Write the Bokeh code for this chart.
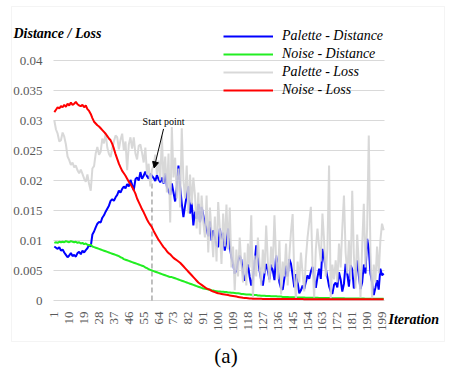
from bokeh.plotting import figure
from bokeh.models import (ColumnDataSource, Range1d, Legend, LegendItem,
                          Label, Arrow, NormalHead, BoxAnnotation)
from bokeh.core.properties import value
from bokeh.embed import file_html
from bokeh.resources import INLINE
import math

iterations = list(range(1, 201))

palette_distance = [
    0.0090, 0.0088, 0.0086, 0.0089, 0.0083, 0.0085, 0.0080, 0.0076, 0.0072, 0.0075,
    0.0079, 0.0074, 0.0076, 0.0073, 0.0079, 0.0081, 0.0077, 0.0083, 0.0080, 0.0084,
    0.0087, 0.0093, 0.0090, 0.0110, 0.0115, 0.0122, 0.0128, 0.0131, 0.0130, 0.0138,
    0.0142, 0.0148, 0.0153, 0.0158, 0.0166, 0.0169, 0.0166, 0.0172, 0.0176, 0.0183,
    0.0180, 0.0186, 0.0190, 0.0187, 0.0194, 0.0190, 0.0201, 0.0193, 0.0184, 0.0202,
    0.0205, 0.0200, 0.0214, 0.0203, 0.0208, 0.0215, 0.0207, 0.0203, 0.0211, 0.0208,
    0.0204, 0.0199, 0.0209, 0.0202, 0.0197, 0.0205, 0.0195, 0.0212, 0.0190, 0.0182,
    0.0176, 0.0195, 0.0180, 0.0165, 0.0189, 0.0225, 0.0190, 0.0162, 0.0139, 0.0158,
    0.0175, 0.0190, 0.0145, 0.0163, 0.0125, 0.0148, 0.0136, 0.0161, 0.0130, 0.0156,
    0.0142, 0.0128, 0.0120, 0.0107, 0.0132, 0.0100, 0.0117, 0.0106, 0.0092, 0.0089,
    0.0120, 0.0102, 0.0113, 0.0083, 0.0099, 0.0120, 0.0090, 0.0072, 0.0061, 0.0045,
    0.0050, 0.0065, 0.0075, 0.0068, 0.0047, 0.0033, 0.0045, 0.0060, 0.0040, 0.0025,
    0.0038, 0.0062, 0.0092, 0.0070, 0.0050, 0.0033, 0.0025, 0.0045, 0.0061, 0.0050,
    0.0035, 0.0060, 0.0050, 0.0034, 0.0075, 0.0055, 0.0030, 0.0020, 0.0018, 0.0037,
    0.0058, 0.0040, 0.0069, 0.0061, 0.0042, 0.0022, 0.0044, 0.0030, 0.0012, 0.0017,
    0.0025, 0.0019, 0.0031, 0.0042, 0.0036, 0.0048, 0.0056, 0.0038, 0.0021, 0.0039,
    0.0053, 0.0036, 0.0086, 0.0070, 0.0054, 0.0039, 0.0024, 0.0015, 0.0011, 0.0026,
    0.0030, 0.0022, 0.0047, 0.0035, 0.0015, 0.0028, 0.0061, 0.0044, 0.0023, 0.0059,
    0.0052, 0.0020, 0.0038, 0.0067, 0.0041, 0.0019, 0.0030, 0.0060, 0.0045, 0.0103,
    0.0086, 0.0045, 0.0030, 0.0009, 0.0021, 0.0034, 0.0018, 0.0053, 0.0042, 0.0045,
]

noise_distance = [
    0.0096, 0.0097, 0.0096, 0.0098, 0.0097, 0.0098, 0.0097, 0.0099, 0.0098, 0.0097,
    0.0099, 0.0098, 0.0097, 0.0098, 0.0096, 0.0097, 0.0095, 0.0096, 0.0094, 0.0095,
    0.0093, 0.0092, 0.0093, 0.0090, 0.0089, 0.0088, 0.0087, 0.0086, 0.0085, 0.0084,
    0.0083, 0.0082, 0.0081, 0.0080, 0.0079, 0.0078, 0.0077, 0.0076, 0.0075, 0.0074,
    0.0072, 0.0071, 0.0069, 0.0068, 0.0067, 0.0066, 0.0065, 0.0064, 0.0063, 0.0062,
    0.0061, 0.0060, 0.0059, 0.0058, 0.0057, 0.0055, 0.0054, 0.0052, 0.0051, 0.0050,
    0.0049, 0.0048, 0.0047, 0.0046, 0.0045, 0.0044, 0.0043, 0.0042, 0.0041, 0.0040,
    0.0039, 0.0039, 0.0038, 0.0037, 0.0036, 0.0035, 0.0034, 0.0033, 0.0032, 0.0031,
    0.0030, 0.0029, 0.0028, 0.0027, 0.0026, 0.0025, 0.0024, 0.0023, 0.0022, 0.0021,
    0.0020, 0.00195, 0.0019, 0.00185, 0.0018, 0.0017, 0.00165, 0.0016, 0.00155, 0.0015,
    0.0015, 0.00145, 0.00145, 0.0014, 0.0014, 0.00135, 0.00135, 0.0013, 0.0013, 0.00125,
    0.0012, 0.0012, 0.00115, 0.0011, 0.0011, 0.00105, 0.0010, 0.0010, 0.0010, 0.00095,
    0.00095, 0.0009, 0.0009, 0.00085, 0.00085, 0.0008, 0.0008, 0.0008, 0.00075, 0.00075,
    0.00075, 0.0007, 0.0007, 0.0007, 0.0007, 0.00065, 0.00065, 0.00065, 0.0006, 0.0006,
    0.0006, 0.0006, 0.00055, 0.00055, 0.00055, 0.00055, 0.0005, 0.0005, 0.0005, 0.0005,
    0.00048, 0.00048, 0.00047, 0.00047, 0.00046, 0.00046, 0.00045, 0.00045, 0.00044, 0.00044,
    0.00043, 0.00043, 0.00042, 0.00042, 0.00041, 0.00041, 0.0004, 0.0004, 0.00039, 0.00039,
    0.00038, 0.00038, 0.00037, 0.00037, 0.00036, 0.00036, 0.00035, 0.00035, 0.00035, 0.00034,
    0.00034, 0.00034, 0.00033, 0.00033, 0.00033, 0.00032, 0.00032, 0.00032, 0.00031, 0.00031,
    0.00031, 0.0003, 0.0003, 0.0003, 0.0003, 0.0003, 0.00029, 0.00029, 0.00029, 0.00029,
]

palette_loss = [
    0.0300, 0.0285, 0.0278, 0.0265, 0.0267, 0.0280, 0.0273, 0.0260, 0.0240, 0.0234,
    0.0226, 0.0230, 0.0222, 0.0225, 0.0217, 0.0212, 0.0218, 0.0211, 0.0203, 0.0198,
    0.0210, 0.0194, 0.0183, 0.0220, 0.0224, 0.0245, 0.0256, 0.0243, 0.0248, 0.0270,
    0.0262, 0.0278, 0.0255, 0.0244, 0.0239, 0.0254, 0.0265, 0.0275, 0.0272, 0.0252,
    0.0268, 0.0278, 0.0250, 0.0265, 0.0217, 0.0260, 0.0272, 0.0253, 0.0272, 0.0245,
    0.0235, 0.0258, 0.0260, 0.0246, 0.0230, 0.0255, 0.0210, 0.0228, 0.0190, 0.0218,
    0.0225, 0.0243, 0.0210, 0.0233, 0.0200, 0.0275, 0.0196, 0.0240, 0.0180, 0.0245,
    0.0130, 0.0289, 0.0205, 0.0238, 0.0170, 0.0220, 0.0155, 0.0287, 0.0200, 0.0170,
    0.0225, 0.0145, 0.0210, 0.0160, 0.0205, 0.0175, 0.0120, 0.0180, 0.0110, 0.0175,
    0.0130, 0.0105, 0.0175, 0.0080, 0.0155, 0.0115, 0.0072, 0.0140, 0.0065, 0.0164,
    0.0120, 0.0061, 0.0145, 0.0090, 0.0160, 0.0085, 0.0155, 0.0055, 0.0090, 0.0017,
    0.0085, 0.0040, 0.0105, 0.0060, 0.0030, 0.0080, 0.0025, 0.0095, 0.0055, 0.0142,
    0.0005, 0.0075, 0.0040, 0.0105, 0.0060, 0.0025, 0.0085, 0.0045, 0.0125, 0.0065,
    0.0030, 0.0090, 0.0055, 0.0142, 0.0070, 0.0035, 0.0100, 0.0010, 0.0065, 0.0040,
    0.0095, 0.0025, 0.0075, 0.0115, 0.0144, 0.0040, 0.0002, 0.0065, 0.0030, 0.0080,
    0.0045, 0.0015, 0.0070, 0.0105, 0.0130, 0.0156, 0.0060, 0.0005, 0.0085, 0.0120,
    0.0090, 0.0065, 0.0145, 0.0100, 0.0040, 0.0085, 0.0225, 0.0003, 0.0060, 0.0035,
    0.0067, 0.0030, 0.0095, 0.0055, 0.0120, 0.0175, 0.0080, 0.0045, 0.0100, 0.0035,
    0.0183, 0.0075, 0.0020, 0.0110, 0.0060, 0.0005, 0.0090, 0.0161, 0.0055, 0.0120,
    0.0275, 0.0080, 0.0003, 0.0060, 0.0030, 0.0090, 0.0045, 0.0100, 0.0128, 0.0117,
]

noise_loss = [
    0.0314, 0.0318, 0.0322, 0.0320, 0.0324, 0.0322, 0.0326, 0.0323, 0.0328, 0.0325,
    0.0330, 0.0326, 0.0328, 0.0331, 0.0327, 0.0325, 0.0324, 0.0326, 0.0322, 0.0325,
    0.0319, 0.0316, 0.0311, 0.0304, 0.0298, 0.0295, 0.0292, 0.0290, 0.0287, 0.0284,
    0.0281, 0.0278, 0.0274, 0.0270, 0.0267, 0.0261, 0.0253, 0.0244, 0.0236, 0.0228,
    0.0222, 0.0216, 0.0212, 0.0208, 0.0203, 0.0198, 0.0194, 0.0189, 0.0184, 0.0178,
    0.0170, 0.0164, 0.0158, 0.0152, 0.0147, 0.0141, 0.0135, 0.0130, 0.0126, 0.0122,
    0.0116, 0.0111, 0.0106, 0.0101, 0.0097, 0.0093, 0.0089, 0.0086, 0.0082, 0.0079,
    0.0077, 0.0074, 0.0071, 0.0069, 0.0067, 0.0065, 0.0063, 0.0060, 0.0057, 0.0054,
    0.0051, 0.0048, 0.0045, 0.0042, 0.0039, 0.0036, 0.0033, 0.0030, 0.0028, 0.0026,
    0.0024, 0.0022, 0.0020, 0.0019, 0.0018, 0.0016, 0.0015, 0.0014, 0.0013, 0.0012,
    0.00115, 0.0011, 0.00105, 0.0010, 0.00095, 0.0009, 0.00085, 0.0008, 0.00075, 0.0007,
    0.00065, 0.0006, 0.00055, 0.0005, 0.00045, 0.00042, 0.0004, 0.00038, 0.00035, 0.00033,
    0.00031, 0.0003, 0.0003, 0.00029, 0.00028, 0.00028, 0.00027, 0.00027, 0.00026, 0.00026,
    0.00025, 0.00025, 0.00025, 0.00025, 0.00025, 0.00024, 0.00024, 0.00024, 0.00024, 0.00024,
    0.00024, 0.00024, 0.00023, 0.00023, 0.00023, 0.00023, 0.00023, 0.00023, 0.00023, 0.00023,
    0.00023, 0.00022, 0.00022, 0.00022, 0.00022, 0.00022, 0.00022, 0.00022, 0.00022, 0.00022,
    0.00022, 0.00021, 0.00021, 0.00021, 0.00021, 0.00021, 0.00021, 0.00021, 0.00021, 0.00021,
    0.00021, 0.0002, 0.0002, 0.0002, 0.0002, 0.0002, 0.0002, 0.0002, 0.0002, 0.0002,
    0.0002, 0.0002, 0.0002, 0.0002, 0.0002, 0.00019, 0.00019, 0.00019, 0.00019, 0.00019,
    0.00019, 0.00019, 0.00019, 0.00019, 0.00019, 0.00019, 0.00019, 0.00019, 0.00019, 0.00019,
]

series_names = ["Palette - Distance", "Noise - Distance", "Palette - Loss", "Noise - Loss"]
series_colors = ["#0000ff", "#22ee22", "#d4d4d4", "#ff0000"]

x_ticks = list(range(1, 201, 9))
x_tick_labels = [str(t) for t in x_ticks]
y_ticks = [0, 0.005, 0.01, 0.015, 0.02, 0.025, 0.03, 0.035, 0.04]
y_tick_labels = ["0", "0.005", "0.01", "0.015", "0.02", "0.025", "0.03", "0.035", "0.04"]

start_iter = 60
start_text = "Start point"
y_title = "Distance / Loss"
x_title = "Iteration"
caption = "(a)"

SERIF = "Liberation Serif"

# pixel geometry of the plotting area inside the 450x374 canvas
W, H = 450, 374
PLOT_L, PLOT_R, PLOT_B = 53, 384, 300
PX_PER_ITER = (PLOT_R - PLOT_L) / 200.0
PX_PER_UNIT = 6000.0


def xd(px):
    return 0.5 + (px - PLOT_L) / PX_PER_ITER


def yd(py):
    return (PLOT_B - py) / PX_PER_UNIT


source = ColumnDataSource(dict(x=iterations, pd=palette_distance, nd=noise_distance,
                               pl=palette_loss, nl=noise_loss))

p = figure(width=W, height=H, output_backend="svg", toolbar_location=None,
           x_range=Range1d(xd(0), xd(W)), y_range=Range1d(yd(H), yd(0)),
           x_axis_location=None, y_axis_location=None, min_border=0)
p.outline_line_color = None
p.background_fill_color = "white"
p.border_fill_color = "white"
p.grid.visible = False

# outer chart border
p.add_layout(BoxAnnotation(left=xd(11), right=xd(444), top=yd(6), bottom=yd(341),
                           fill_alpha=0, line_color="#d9d9d9", line_width=1))

# horizontal gridlines at the y ticks
p.segment(x0=[0.5] * len(y_ticks), x1=[200.5] * len(y_ticks), y0=y_ticks, y1=y_ticks,
          line_color="#d9d9d9", line_width=1)

# y tick labels
p.text(x=[xd(42)] * len(y_ticks), y=y_ticks, text=y_tick_labels,
       text_font=value(SERIF), text_font_size="13px", text_color="#595959",
       text_align="right", text_baseline="middle")

# x tick labels (vertical)
p.text(x=x_ticks, y=[yd(311)] * len(x_ticks), text=x_tick_labels, angle=math.pi / 2,
       text_font=value(SERIF), text_font_size="13px", text_color="#595959",
       text_align="right", text_baseline="middle")

# dashed start marker
p.segment(x0=[start_iter], y0=[0], x1=[start_iter], y1=[0.0198],
          line_color="#808080", line_dash="5 3", line_width=1)

r_pd = p.line("x", "pd", source=source, line_color=series_colors[0], line_width=2)
r_nd = p.line("x", "nd", source=source, line_color=series_colors[1], line_width=2)
r_pl = p.line("x", "pl", source=source, line_color=series_colors[2], line_width=2, line_alpha=0.9)
r_nl = p.line("x", "nl", source=source, line_color=series_colors[3], line_width=2)

legend = Legend(items=[LegendItem(label=series_names[0], renderers=[r_pd]),
                       LegendItem(label=series_names[1], renderers=[r_nd]),
                       LegendItem(label=series_names[2], renderers=[r_pl]),
                       LegendItem(label=series_names[3], renderers=[r_nl])],
                location=(223, H - 99), border_line_color=None, background_fill_alpha=0,
                padding=0, spacing=0, margin=0, glyph_width=50, glyph_height=18,
                label_height=18, label_standoff=9,
                label_text_font=SERIF, label_text_font_style="italic",
                label_text_font_size="14px", label_text_color="black")
p.add_layout(legend)

# titles
p.add_layout(Label(x=xd(13), y=yd(33), text=y_title, text_font=SERIF,
                   text_font_style="bold italic", text_font_size="14px",
                   text_baseline="middle", text_color="black"))
p.add_layout(Label(x=xd(388), y=yd(319), text=x_title, text_font=SERIF,
                   text_font_style="bold italic", text_font_size="14px",
                   text_baseline="middle", text_color="black"))
p.add_layout(Label(x=xd(225.5), y=yd(355), text=caption, text_font=SERIF,
                   text_font_size="21px", text_align="center",
                   text_baseline="middle", text_color="black"))

# start point annotation
p.add_layout(Label(x=67, y=0.0289, text=start_text, text_font=SERIF, text_font_size="10px",
                   text_align="center", text_baseline="bottom", text_color="black"))
p.add_layout(Arrow(x_start=67, y_start=0.0286, x_end=61.3, y_end=0.0221,
                   line_color="black", line_width=1,
                   end=NormalHead(size=6, fill_color="black", line_color="black")))

open("out.html", "w").write(file_html(p, INLINE))
